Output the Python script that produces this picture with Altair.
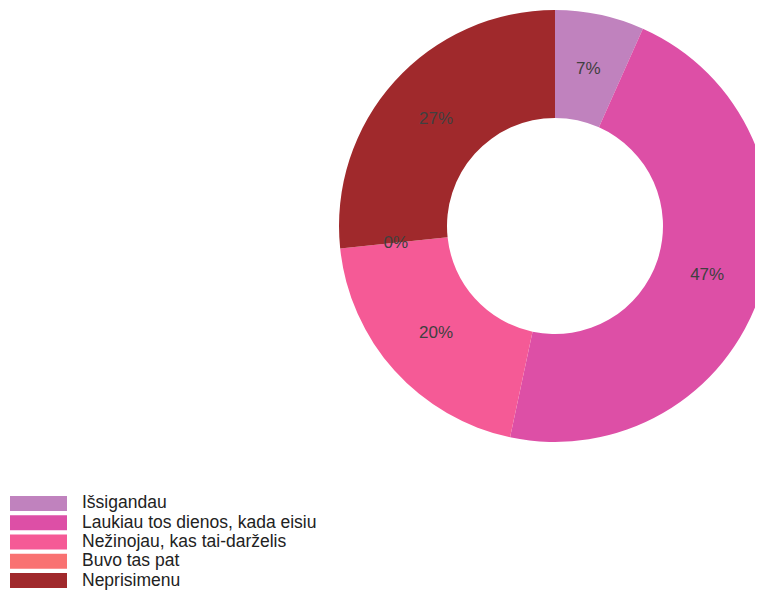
import altair as alt
import pandas as pd

categories = ["Išsigandau", "Laukiau tos dienos, kada eisiu", "Nežinojau, kas tai-darželis", "Buvo tas pat", "Neprisimenu"]
percents = [6.67, 46.67, 20.0, 0.0, 26.67]
colors = ["#C082BE", "#DD4FA6", "#F55A96", "#F97272", "#A0292C"]

df = pd.DataFrame({
    "cat": categories,
    "pct": percents,
    "idx": list(range(len(categories))),
    "label": [f"{round(p):d}%" for p in percents],
})

color = alt.Color("cat:N", scale=alt.Scale(domain=categories, range=colors), legend=None)
cx, cy = 547, 218

base = alt.Chart(df)

arcs = base.mark_arc(outerRadius=216, innerRadius=108).encode(
    theta=alt.Theta("pct:Q", stack=True),
    order=alt.Order("idx:Q"),
    color=color,
    x=alt.value(cx), y=alt.value(cy),
)

labels = base.mark_text(radius=160, fontSize=17, font="Liberation Sans", color="#404040").encode(
    theta=alt.Theta("pct:Q", stack=True),
    order=alt.Order("idx:Q"),
    text="label:N",
    x=alt.value(cx), y=alt.value(cy),
)

yleg = alt.Y("cat:N", sort=categories, axis=None,
             scale=alt.Scale(domain=categories, range=[488, 580], paddingInner=0.223, paddingOuter=0))

leg_rect = base.mark_rect().encode(
    x=alt.value(2), x2=alt.value(59),
    y=yleg,
    color=color,
)

leg_text = base.mark_text(align="left", baseline="middle", fontSize=17.5, font="Liberation Sans", color="#222222").encode(
    x=alt.value(74),
    y=yleg,
    text="cat:N",
)

chart = alt.layer(arcs, labels, leg_rect, leg_text).properties(
    width=747, height=583, padding=0, autosize="none", background="white"
).configure_view(stroke=None)

chart.save("out.html", embed_options={"renderer": "svg", "actions": False})
